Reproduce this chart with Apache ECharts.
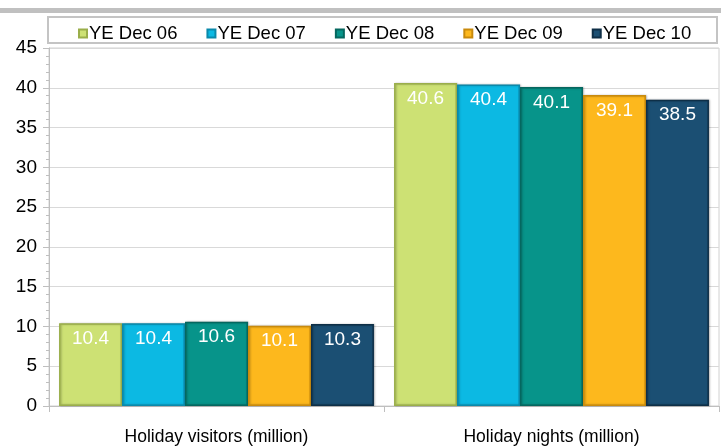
<!DOCTYPE html>
<html lang="en">
  <head>
    <meta charset="UTF-8" />
    <title>Holiday visitors and nights</title>
    <script src="https://cdn.jsdelivr.net/npm/echarts@6/dist/echarts.min.js"></script>
    <style>
      html, body { margin: 0; padding: 0; background: #fff; }
      #main { width: 721px; height: 446px; }
    </style>
  </head>
  <body>
    <div id="main"></div>
    <script>
      const categories = ["Holiday visitors (million)", "Holiday nights (million)"];
      const seriesNames = ["YE Dec 06", "YE Dec 07", "YE Dec 08", "YE Dec 09", "YE Dec 10"];
      const dec06 = [10.4, 40.6];
      const dec07 = [10.4, 40.4];
      const dec08 = [10.6, 40.1];
      const dec09 = [10.1, 39.1];
      const dec10 = [10.3, 38.5];
      const yTicks = [0, 5, 10, 15, 20, 25, 30, 35, 40, 45];

      const values = [dec06, dec07, dec08, dec09, dec10];
      const fills = ["#cde174", "#0cb9e3", "#07948a", "#fdb81d", "#1b4f73"];
      const edges = ["#9aae4a", "#0a89ab", "#05675f", "#c98a0c", "#0e2f47"];

      // flat bars with a darker edge, like the bevelled originals
      const series = seriesNames.map((name, i) => ({
        name,
        type: "bar",
        data: values[i],
        barGap: "0%",
        barCategoryGap: "6%",
        itemStyle: {
          color: fills[i],
          borderColor: edges[i],
          borderWidth: 1.5,
          shadowColor: "rgba(0,0,0,0.25)",
          shadowBlur: 2,
          shadowOffsetX: 1,
          shadowOffsetY: 0,
        },
        label: {
          show: true,
          position: "insideTop",
          distance: 6,
          color: "#fff",
          fontFamily: "Liberation Sans, Arial",
          fontSize: 19,
        },
      }));

      const chart = echarts.init(document.getElementById("main"));
      chart.setOption({
        animation: false,
        textStyle: { fontFamily: "Liberation Sans, Arial" },
        graphic: [
          {
            type: "rect",
            shape: { x: 0, y: 8, width: 721, height: 5 },
            style: { fill: "#c0c0c0" },
          },
          {
            type: "rect",
            shape: { x: 48, y: 17, width: 669, height: 26 },
            style: { fill: "#fff", stroke: "#c4c4c4", lineWidth: 2 },
            z: -1,
          },
        ],
        legend: {
          top: 19,
          left: 73,
          itemWidth: 8,
          itemHeight: 8,
          itemGap: 29,
          icon: "rect",
          textStyle: { fontSize: 18.5, color: "#000", padding: [0, 0, 0, -3] },
          data: seriesNames,
        },
        grid: {
          left: 49,
          right: 2,
          top: 48,
          bottom: 38,
          show: true,
          borderColor: "#d0d0d0",
          borderWidth: 1,
        },
        xAxis: {
          type: "category",
          data: categories,
          axisLine: { lineStyle: { color: "#bfbfbf" } },
          axisTick: { show: true, length: 6, lineStyle: { color: "#bfbfbf" } },
          axisLabel: { color: "#000", fontSize: 17.5, margin: 22 },
        },
        yAxis: {
          type: "value",
          min: yTicks[0],
          max: yTicks[yTicks.length - 1],
          interval: 5,
          axisLine: { show: true, lineStyle: { color: "#bfbfbf" } },
          axisTick: { show: true, length: 6, lineStyle: { color: "#bfbfbf" } },
          minorTick: { show: true, splitNumber: 5, length: 3, lineStyle: { color: "#bfbfbf" } },
          axisLabel: { color: "#000", fontSize: 19, margin: 12 },
          splitLine: { lineStyle: { color: "#d9d9d9" } },
        },
        series,
      });
    </script>
  </body>
</html>
